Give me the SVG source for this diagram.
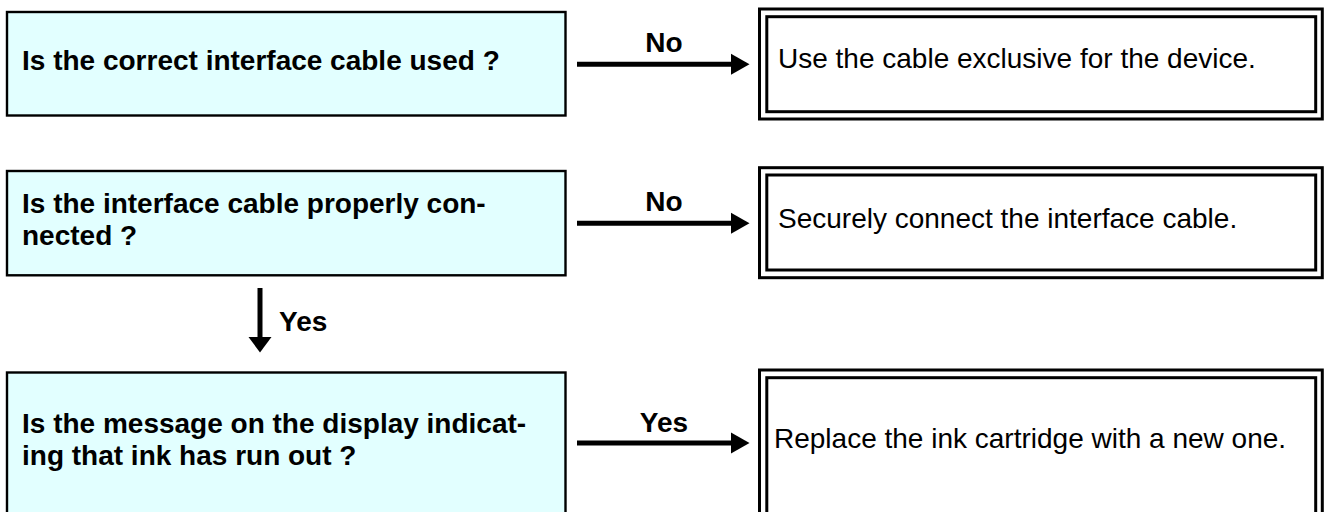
<svg xmlns="http://www.w3.org/2000/svg" width="1329" height="512" viewBox="0 0 1329 512">
<style>
.q{fill:#e2ffff;stroke:#000;stroke-width:2.4}
.a{fill:#fff;stroke:#000;stroke-width:3}
.ai{fill:none;stroke:#000;stroke-width:3}
.tb{font-family:"Liberation Sans",Arial,sans-serif;font-weight:bold;font-size:28px;fill:#000}
.tr{font-family:"Liberation Sans",Arial,sans-serif;font-size:28px;fill:#000}
.ln{stroke:#000;stroke-width:5;fill:none}
.lbl{font-family:"Liberation Sans",Arial,sans-serif;font-weight:bold;font-size:28px;fill:#000;text-anchor:middle}
</style>
<rect width="1329" height="512" fill="#fff"/>
<g id="q1">
<rect class="q" x="7" y="12" width="558.5" height="103.5"/>
<text class="tb" x="22" y="70">Is the correct interface cable used ?</text>
</g>
<g id="a1">
<rect class="a" x="759.5" y="9" width="562.8" height="110"/>
<rect class="ai" x="766.8" y="16.7" width="548.9" height="95"/>
<text class="tr" x="778" y="68.3">Use the cable exclusive for the device.</text>
</g>
<g id="q2">
<rect class="q" x="7" y="171" width="558.5" height="104.3"/>
<text class="tb" x="22" y="212.7">Is the interface cable properly con-</text>
<text class="tb" x="22" y="245">nected ?</text>
</g>
<g id="a2">
<rect class="a" x="759.5" y="167.7" width="562.8" height="110"/>
<rect class="ai" x="766.8" y="175" width="548.9" height="95"/>
<text class="tr" x="778" y="228.3">Securely connect the interface cable.</text>
</g>
<g id="q3">
<rect class="q" x="7" y="372.5" width="558.5" height="160"/>
<text class="tb" x="22" y="433">Is the message on the display indicat-</text>
<text class="tb" x="22" y="465">ing that ink has run out ?</text>
</g>
<g id="a3">
<rect class="a" x="759.5" y="370" width="562.8" height="165"/>
<rect class="ai" x="766.8" y="377.7" width="548.9" height="150"/>
<text class="tr" x="774" y="448">Replace the ink cartridge with a new one.</text>
</g>
<g id="connectors">
<line class="ln" x1="577" y1="64.3" x2="733" y2="64.3"/>
<polygon points="731,53.8 749.5,64.3 731,74.8"/>
<text class="lbl" x="664" y="52">No</text>
<line class="ln" x1="577" y1="223.3" x2="733" y2="223.3"/>
<polygon points="731,212.8 749.5,223.3 731,233.8"/>
<text class="lbl" x="664" y="211">No</text>
<line class="ln" x1="260" y1="288" x2="260" y2="339"/>
<polygon points="248.5,337 271.5,337 260,352.5"/>
<text class="tb" x="279" y="331">Yes</text>
<line class="ln" x1="577" y1="443" x2="733" y2="443"/>
<polygon points="731,432.5 749.5,443 731,453.5"/>
<text class="lbl" x="664" y="432">Yes</text>
</g>
</svg>
